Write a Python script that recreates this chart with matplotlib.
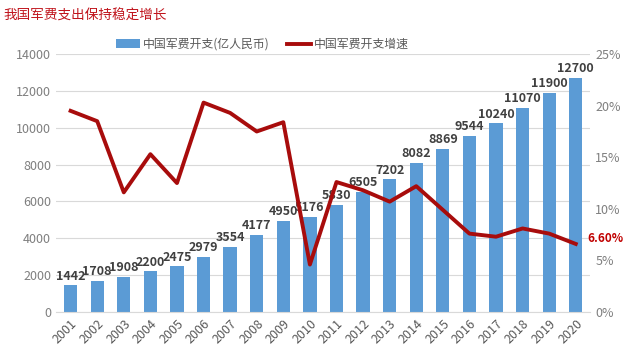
import matplotlib
matplotlib.use("Agg")
from matplotlib import pyplot as plt
from matplotlib.ticker import FuncFormatter

plt.rcParams['font.family'] = ['Noto Sans CJK SC', 'DejaVu Sans']

# Data
years = ['2001', '2002', '2003', '2004', '2005', '2006', '2007', '2008', '2009', '2010',
         '2011', '2012', '2013', '2014', '2015', '2016', '2017', '2018', '2019', '2020']
spending = [1442, 1708, 1908, 2200, 2475, 2979, 3554, 4177, 4950, 5176,
            5830, 6505, 7202, 8082, 8869, 9544, 10240, 11070, 11900, 12700]
growth = [19.5, 18.5, 11.6, 15.3, 12.5, 20.3, 19.3, 17.5, 18.4, 4.6,
          12.6, 11.8, 10.7, 12.2, 9.9, 7.6, 7.3, 8.1, 7.6, 6.6]

bar_color = '#5b9bd5'
line_color = '#a80c0c'
tick_color = '#7f7f7f'

fig = plt.figure(figsize=(6.4, 3.54), dpi=100)
ax = fig.add_axes([0.0875, 0.1186, 0.835, 0.7285])
ax2 = ax.twinx()

x = list(range(len(years)))
bars = ax.bar(x, spending, width=0.5, color=bar_color, zorder=2,
              label='中国军费开支(亿人民币)')
for xi, v in zip(x, spending):
    ax.text(xi, v + 150, str(v), ha='center', va='bottom', fontsize=9,
            fontweight='bold', color='#404040', zorder=5)

ln, = ax2.plot(x, growth, color=line_color, lw=2.8, zorder=4,
               label='中国军费开支增速')
ax2.text(x[-1] + 0.45, growth[-1] + 0.5, '6.60%', color='#c00000', fontsize=8.5,
         fontweight='bold', va='center', ha='left')

ax.set_ylim(0, 14000)
ax.set_yticks(range(0, 14001, 2000))
ax2.set_ylim(0, 25)
ax2.set_yticks([0, 5, 10, 15, 20, 25])
ax2.yaxis.set_major_formatter(FuncFormatter(lambda v, p: '%d%%' % v))
ax.set_xlim(-0.55, len(years) - 0.45)
ax.set_xticks(x)
ax.set_xticklabels(years, rotation=45, ha='right', rotation_mode='anchor')

ax.grid(axis='y', color='#d9d9d9', lw=0.8, zorder=0)
ax.set_axisbelow(True)
for a in (ax, ax2):
    for s in a.spines.values():
        s.set_visible(False)
    a.tick_params(length=0, colors=tick_color, labelsize=9)
ax.tick_params(axis='x', colors='#595959')
ax.spines['bottom'].set_visible(True)
ax.spines['bottom'].set_color('#d9d9d9')

fig.text(0.006, 0.955, '我国军费支出保持稳定增长', color='#c0141c', fontsize=9.8,
         ha='left', va='center')

fig.legend(handles=[bars, ln], loc='center', bbox_to_anchor=(0.41, 0.875), ncol=2,
           frameon=False, fontsize=8.6, labelcolor='#595959', handlelength=2.0,
           columnspacing=1.4, handletextpad=0.3)

fig.savefig('out.png', dpi=100)
